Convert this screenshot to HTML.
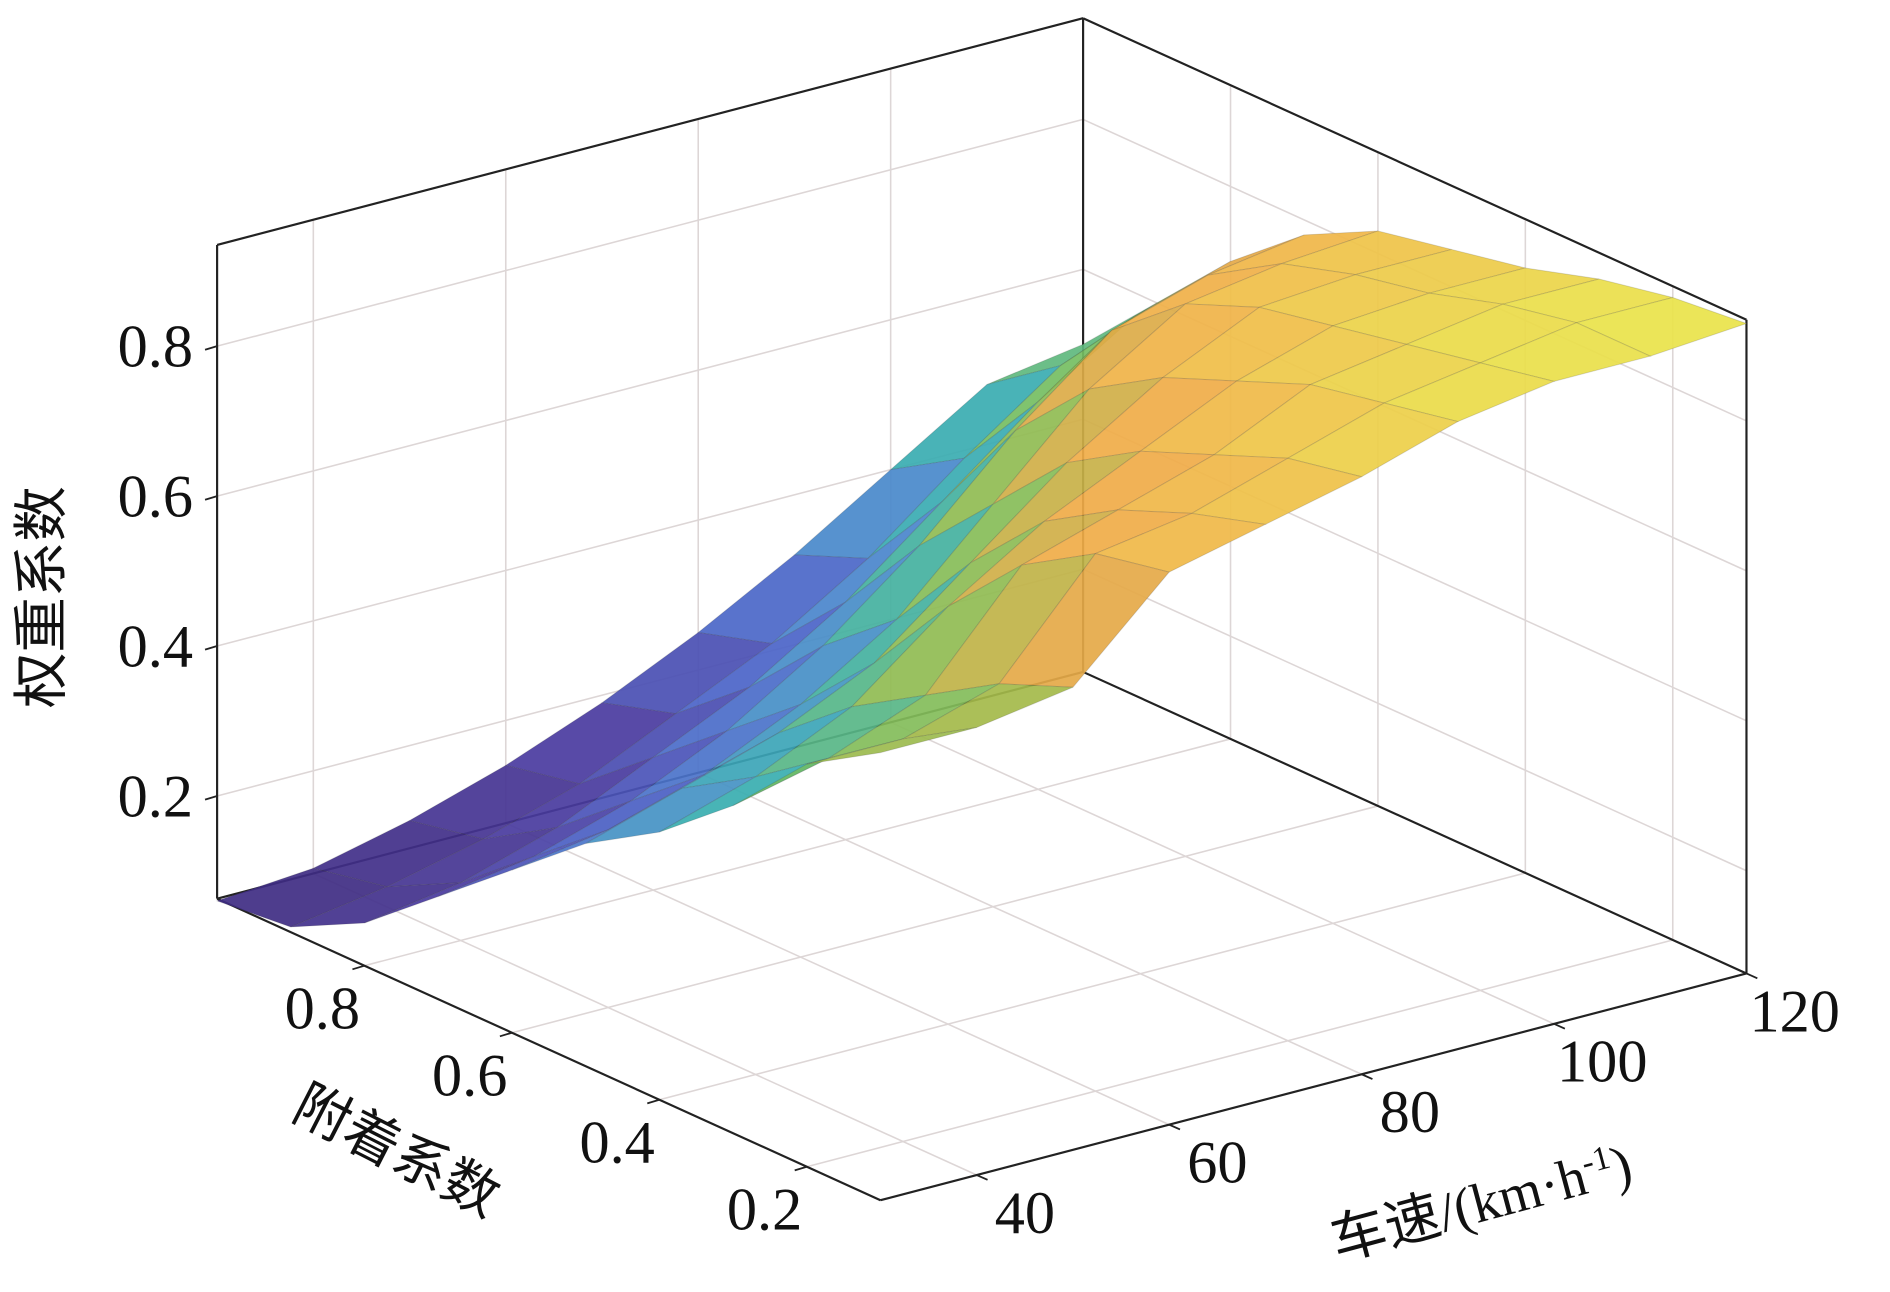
<!DOCTYPE html>
<html><head><meta charset="utf-8"><style>
html,body{margin:0;padding:0;background:#fff;}
svg{display:block;}
text{font-family:"Liberation Serif","Noto Serif CJK SC",serif;fill:#111;}
.cjk{font-family:"Liberation Serif","Noto Sans CJK SC",sans-serif;}
</style></head><body>
<svg id="chart" width="1890" height="1292" viewBox="0 0 1567 1071" xmlns="http://www.w3.org/2000/svg">
<g id="grid"></g>
<g id="box"></g>
<g id="surf"></g>
<g id="labels"></g>
<text class="cjk" x="0" y="0" font-size="46" text-anchor="middle" transform="translate(50,495) rotate(-90)">权重系数</text>
<text class="cjk" x="0" y="0" font-size="46" text-anchor="middle" transform="translate(322,968) rotate(27)">附着系数</text>
<text x="0" y="0" font-size="46" text-anchor="middle" transform="translate(1232,1012) rotate(-15)"><tspan class="cjk">车速</tspan>/(km·h<tspan font-size="28" dy="-16">-1</tspan><tspan dy="16">)</tspan></text>
</svg>
<script>
const speeds=[30,40,50,60,70,80,90,100,110,120];
const adhesions=[0.1,0.2,0.3,0.4,0.5,0.6,0.7,0.8,0.9,1.0];
// rows: adhesion, cols: speed
const weights=[
[0.66,0.66,0.68,0.80,0.83,0.86,0.90,0.92,0.92,0.93],
[0.60,0.60,0.64,0.78,0.80,0.84,0.88,0.90,0.92,0.92],
[0.50,0.53,0.58,0.72,0.76,0.80,0.86,0.88,0.90,0.90],
[0.42,0.46,0.52,0.62,0.70,0.76,0.82,0.86,0.87,0.87],
[0.36,0.40,0.44,0.50,0.60,0.70,0.78,0.84,0.85,0.85],
[0.28,0.30,0.34,0.40,0.48,0.60,0.72,0.80,0.82,0.83],
[0.20,0.22,0.26,0.32,0.40,0.50,0.62,0.72,0.76,0.78],
[0.12,0.14,0.18,0.24,0.30,0.38,0.48,0.58,0.66,0.70],
[0.07,0.09,0.12,0.16,0.22,0.28,0.36,0.46,0.55,0.60],
[0.06,0.07,0.10,0.14,0.19,0.25,0.32,0.40,0.48,0.50]];
const zTicks=[0.2,0.4,0.6,0.8];
const aTicks=[0.2,0.4,0.6,0.8];
const sTicks=[40,60,80,100,120];
const S0=30,S1=120,A0=0.1,A1=1.0,Z0=0.063,Z1=0.935;
const O=[180,745],VS=[718,-188],VA=[550,250],VZ=542;
function P(s,a,z){const u=(s-S0)/(S1-S0),v=(A1-a)/(A1-A0),w=(z-Z0)/(Z1-Z0);
 return [O[0]+u*VS[0]+v*VA[0],O[1]+u*VS[1]+v*VA[1]-w*VZ];}
const NS="http://www.w3.org/2000/svg";
function mk(tag,par,at){const e=document.createElementNS(NS,tag);for(const k in at)e.setAttribute(k,at[k]);par.appendChild(e);return e;}
function line(par,p,q,c,w){return mk('line',par,{x1:p[0],y1:p[1],x2:q[0],y2:q[1],stroke:c,'stroke-width':w});}
const G=document.getElementById('grid'),B=document.getElementById('box'),SF=document.getElementById('surf'),L=document.getElementById('labels');
const gc='#ddd6d6';
sTicks.forEach(s=>{const l=line(G,P(s,A1,Z0),P(s,A1,Z1),gc,1.3);
 const f=line(G,P(s,A1,Z0),P(s,A0,Z0),gc,1.3);});
aTicks.forEach(a=>{const l=line(G,P(S1,a,Z0),P(S1,a,Z1),gc,1.3);
 const f=line(G,P(S0,a,Z0),P(S1,a,Z0),gc,1.3);});
zTicks.forEach(z=>{const l=line(G,P(S0,A1,z),P(S1,A1,z),gc,1.3);
 const r=line(G,P(S1,A1,z),P(S1,A0,z),gc,1.3);});
const bc='#222';
[[P(S0,A1,Z0),P(S0,A1,Z1)],[P(S1,A1,Z0),P(S1,A1,Z1)],[P(S1,A0,Z0),P(S1,A0,Z1)],[P(S0,A1,Z1),P(S1,A1,Z1)],[P(S1,A1,Z1),P(S1,A0,Z1)],
 [P(S0,A1,Z0),P(S1,A1,Z0)],[P(S1,A1,Z0),P(S1,A0,Z0)],[P(S0,A1,Z0),P(S0,A0,Z0)],[P(S0,A0,Z0),P(S1,A0,Z0)]].forEach((e,i)=>{
 const l=line(B,e[0],e[1],bc,1.8);});
const stops=[[0,[62,42,128]],[0.14,[74,60,160]],[0.27,[75,100,200]],[0.37,[74,136,204]],[0.48,[56,174,176]],[0.58,[118,190,96]],[0.68,[168,186,72]],[0.78,[240,166,72]],[0.88,[240,190,72]],[1,[232,230,74]]];
function cmap(z){let t=(z-0.06)/(0.93-0.06);t=Math.max(0,Math.min(1,t));
 for(let i=1;i<stops.length;i++){if(t<=stops[i][0]){const a=stops[i-1],b=stops[i],f=(t-a[0])/(b[0]-a[0]);
  const c=a[1].map((v,k)=>Math.round(v+(b[1][k]-v)*f));return 'rgb('+c.join(',')+')';}}return 'rgb(232,230,74)';}
const quads=[];
for(let j=0;j<adhesions.length-1;j++)for(let i=0;i<speeds.length-1;i++){
 const zs=[weights[j][i],weights[j][i+1],weights[j+1][i+1],weights[j+1][i]];
 quads.push({i,j,zs,d:i+j});}
quads.sort((p,q)=>q.d-p.d||q.j-p.j);
quads.forEach(q=>{const {i,j,zs}=q;
 const pts=[P(speeds[i],adhesions[j],zs[0]),P(speeds[i+1],adhesions[j],zs[1]),P(speeds[i+1],adhesions[j+1],zs[2]),P(speeds[i],adhesions[j+1],zs[3])];
 const zm=(zs[0]+zs[1]+zs[2]+zs[3])/4;
 const p=mk('polygon',SF,{points:pts.map(p=>p.join(',')).join(' '),fill:cmap(zm),'fill-opacity':0.92,stroke:'rgba(60,60,60,0.18)','stroke-width':0.8});
 
 });
zTicks.forEach(z=>{const p=P(S0,A1,z);const t=line(L,p,[p[0]-10,p[1]+3],bc,1.5);
 const tx=mk('text',L,{x:p[0]-20,y:p[1]+17,'font-size':50,'text-anchor':'end'});tx.textContent=z.toFixed(1);
 });
aTicks.forEach(a=>{const p=P(S0,a,Z0);const t=line(L,p,[p[0]-10,p[1]+3],bc,1.5);
 const tx=mk('text',L,{x:p[0]-35,y:p[1]+52,'font-size':50,'text-anchor':'middle'});tx.textContent=a.toFixed(1);
 });
sTicks.forEach(s=>{const p=P(s,A0,Z0);const t=line(L,p,[p[0]+9,p[1]+4],bc,1.5);
 const tx=mk('text',L,{x:p[0]+40,y:p[1]+48,'font-size':50,'text-anchor':'middle'});tx.textContent=s;
 });
</script>
</body></html>
